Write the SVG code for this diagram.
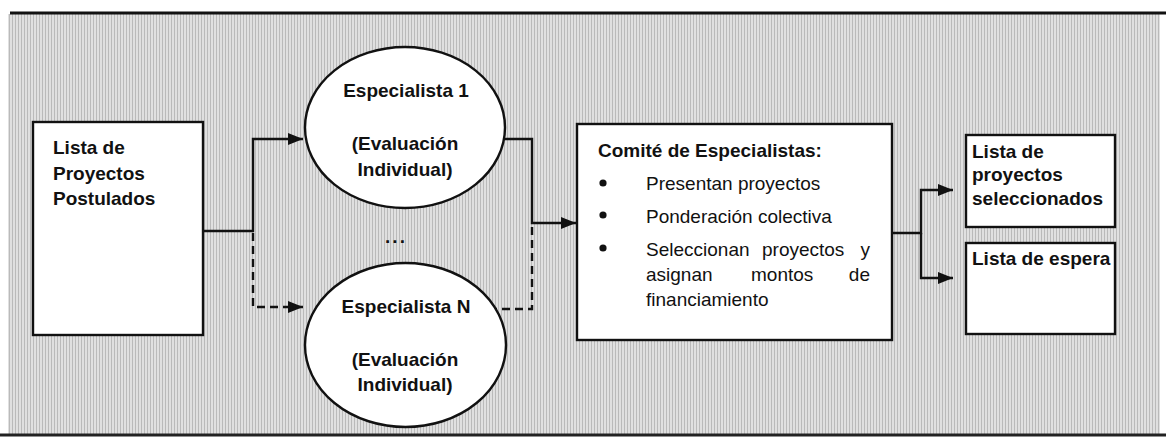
<svg xmlns="http://www.w3.org/2000/svg" width="1166" height="437" viewBox="0 0 1166 437">
  <defs>
    <pattern id="scan" width="3" height="3" patternUnits="userSpaceOnUse">
      <rect width="3" height="3" fill="#e0e0e0"/>
      <rect width="1" height="3" fill="#bababa"/>
    </pattern>
    <marker id="arrow" viewBox="0 0 15 12" refX="15" refY="6" markerWidth="15" markerHeight="12" markerUnits="userSpaceOnUse" orient="auto">
      <path d="M0,0 L15,6 L0,12 Z" fill="#111"/>
    </marker>
    <style>
      .box { fill: #ffffff; stroke: #111; stroke-width: 2.4; }
      .bold { font-family: "Liberation Sans", Arial, sans-serif; font-weight: bold; font-size: 19px; fill: #111; }
      .reg { font-family: "Liberation Sans", Arial, sans-serif; font-size: 19px; fill: #111; }
      .mid { text-anchor: middle; }
      .line { fill: none; stroke: #111; stroke-width: 2.4; }
      .dash { fill: none; stroke: #111; stroke-width: 2.4; stroke-dasharray: 8 5; }
    </style>
  </defs>

  <rect width="1166" height="437" fill="#ffffff"/>
  <rect x="8" y="14" width="1152" height="420" fill="url(#scan)"/>
  <line x1="10" y1="13" x2="1166" y2="13" stroke="#111" stroke-width="3"/>
  <line x1="0" y1="435" x2="1166" y2="435" stroke="#222" stroke-width="3"/>

  <g id="connectors">
    <path class="line" d="M203,231 H253 V139 H303" marker-end="url(#arrow)"/>
    <path class="dash" d="M253,233 V307 H303" marker-end="url(#arrow)"/>
    <path class="line" d="M501,139 H532 V223 H576" marker-end="url(#arrow)"/>
    <path class="dash" d="M532,227 V309 H495"/>
    <path class="line" d="M892,233 H921 V190 H953" marker-end="url(#arrow)"/>
    <path class="line" d="M921,233 V278 H953" marker-end="url(#arrow)"/>
  </g>

  <g id="node-postulados">
    <rect class="box" x="33" y="122" width="170" height="213"/>
    <text class="bold" x="53" y="154">Lista de</text>
    <text class="bold" x="53" y="180">Proyectos</text>
    <text class="bold" x="53" y="205">Postulados</text>
  </g>

  <g id="node-especialista-1">
    <ellipse class="box" cx="405" cy="127.5" rx="100" ry="80.5"/>
    <text class="bold mid" x="406" y="97">Especialista 1</text>
    <text class="bold mid" x="405" y="150">(Evaluación</text>
    <text class="bold mid" x="405" y="176">Individual)</text>
  </g>

  <g id="node-dots">
    <text class="bold mid" x="396" y="243" font-size="21" letter-spacing="2">...</text>
  </g>

  <g id="node-especialista-n">
    <ellipse class="box" cx="405.5" cy="345" rx="100.5" ry="82"/>
    <text class="bold mid" x="406" y="313">Especialista N</text>
    <text class="bold mid" x="405" y="366">(Evaluación</text>
    <text class="bold mid" x="405" y="391">Individual)</text>
  </g>

  <g id="node-comite">
    <rect class="box" x="577" y="124" width="315" height="216"/>
    <text class="bold" x="598" y="157">Comité de Especialistas:</text>
    <circle cx="603" cy="183" r="3.6" fill="#111"/>
    <circle cx="603" cy="215" r="3.6" fill="#111"/>
    <circle cx="603" cy="248" r="3.6" fill="#111"/>
    <text class="reg" x="646" y="190">Presentan proyectos</text>
    <text class="reg" x="646" y="223">Ponderación colectiva</text>
    <text class="reg" y="256"><tspan x="646">Seleccionan</tspan><tspan x="762">proyectos</tspan><tspan x="870" text-anchor="end">y</tspan></text>
    <text class="reg" y="281"><tspan x="646">asignan</tspan><tspan x="751">montos</tspan><tspan x="870" text-anchor="end">de</tspan></text>
    <text class="reg" x="646" y="306">financiamiento</text>
  </g>

  <g id="node-seleccionados">
    <rect class="box" x="966" y="135" width="149" height="92"/>
    <text class="bold" x="972" y="158">Lista de</text>
    <text class="bold" x="972" y="181">proyectos</text>
    <text class="bold" x="972" y="205">seleccionados</text>
  </g>

  <g id="node-espera">
    <rect class="box" x="966" y="243" width="149" height="91"/>
    <text class="bold" x="972" y="265">Lista de espera</text>
  </g>
</svg>
